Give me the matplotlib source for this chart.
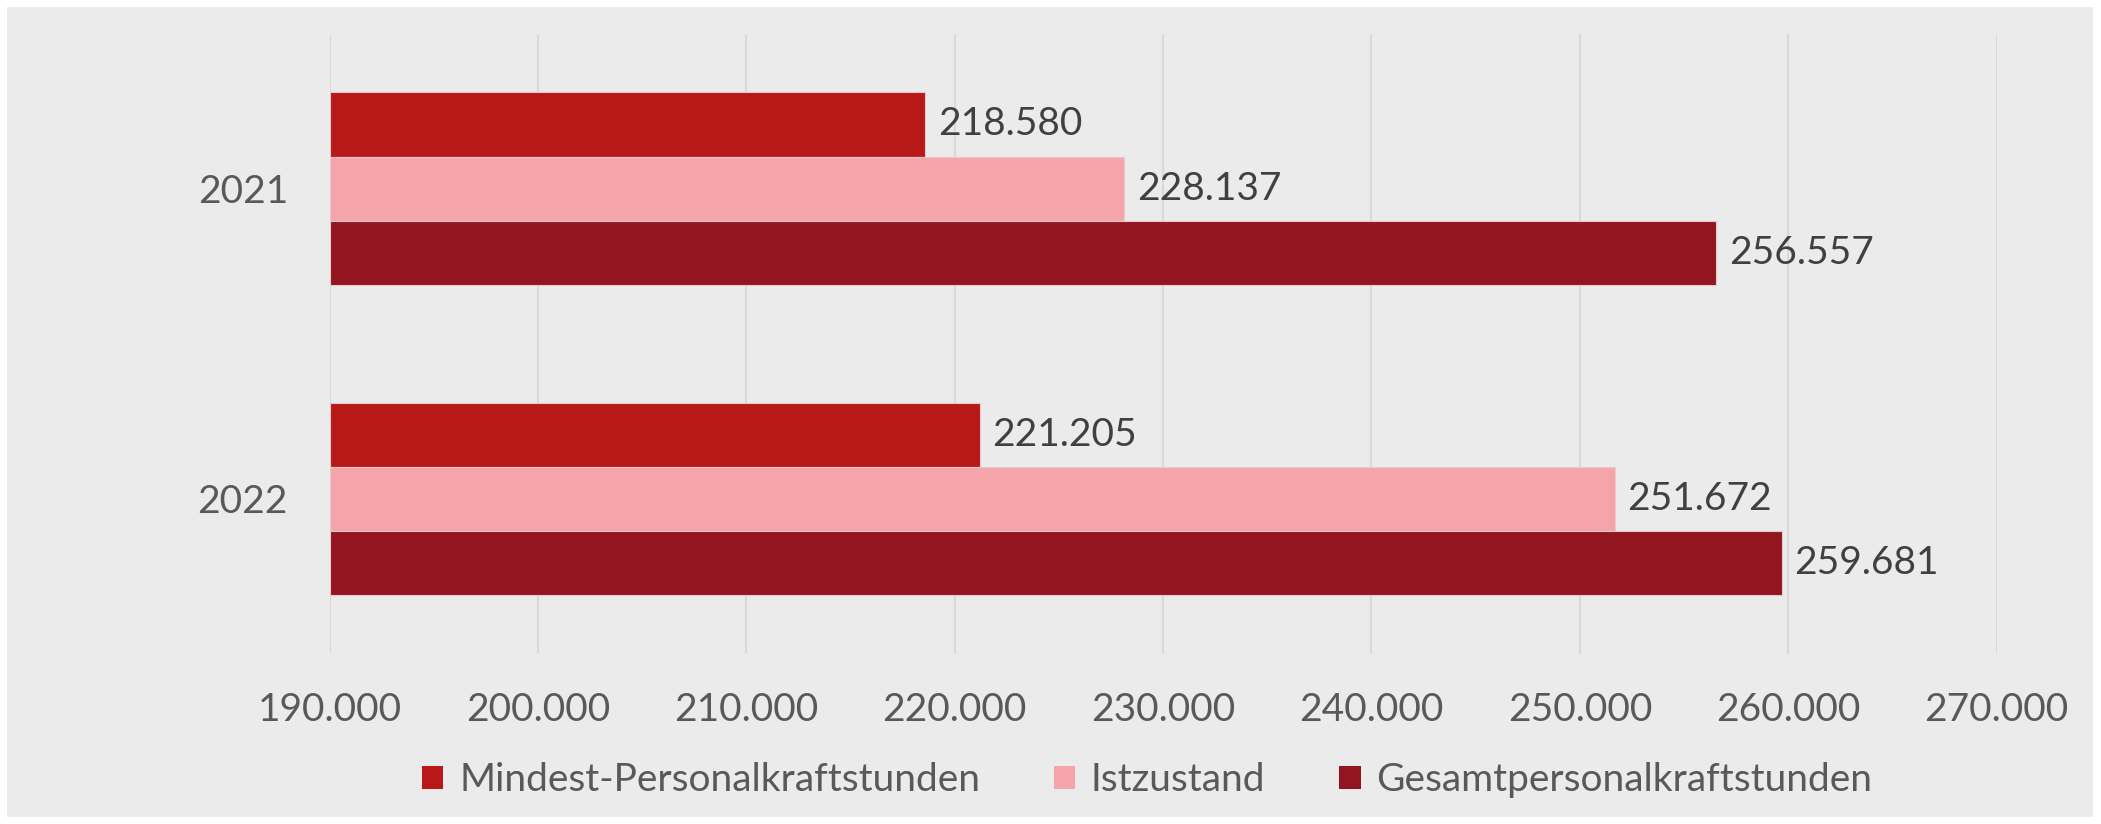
import matplotlib.pyplot as plt
from matplotlib.patches import Rectangle
import numpy as np

years = ["2021", "2022"]
series = ["Mindest-Personalkraftstunden", "Istzustand", "Gesamtpersonalkraftstunden"]
mindest = [218580, 221205]
ist = [228137, 251672]
gesamt = [256557, 259681]
colors = ["#B91818", "#F5A5AA", "#921520"]
xticks = np.arange(190000, 270001, 10000)

plt.rcParams["font.family"] = ["Lato", "DejaVu Sans"]
FS = 28


def de(v):
    return f"{v:,}".replace(",", ".")


fig = plt.figure(figsize=(21.01, 8.24), dpi=100, facecolor="white")
fig.patches.append(Rectangle((7 / 2101, 7 / 824), 2086 / 2101, 810 / 824,
                             transform=fig.transFigure, facecolor="#EBEBEB",
                             edgecolor="none", zorder=-10))

ax = fig.add_axes([0.1569, 0.2063, 0.7934, 0.753])
ax.set_facecolor("none")

y = np.arange(len(years))
h = 0.207
for i, (vals, col, name) in enumerate(zip([mindest, ist, gesamt], colors, series)):
    pos = y + (i - 1) * h
    bars = ax.barh(pos, np.array(vals) - 190000, left=190000, height=h,
                   color=col, edgecolor="#E8C8C8", linewidth=0.8, label=name, zorder=2)
    for b, v in zip(bars, vals):
        ax.text(v + 600, b.get_y() + h / 2, de(v), va="center", ha="left",
                fontsize=FS, color="#404040")

ax.set_xlim(190000, 270000)
ax.set_ylim(1.5, -0.5)
ax.set_xticks(xticks)
ax.set_xticklabels([de(v) for v in xticks])
ax.set_yticks(y)
ax.set_yticklabels(years)
ax.tick_params(axis="x", length=0, pad=27, labelsize=FS, labelcolor="#595959")
ax.tick_params(axis="y", length=0, pad=30, labelsize=FS, labelcolor="#595959")
ax.grid(axis="x", color="#D9D9D9", linewidth=1.5, zorder=0)
ax.set_axisbelow(True)
for s in ax.spines.values():
    s.set_visible(False)

handles, labels = ax.get_legend_handles_labels()
leg = fig.legend(handles, labels, loc="center", bbox_to_anchor=(0.546, 0.053),
                 ncol=3, frameon=False, fontsize=FS, handlelength=0.55,
                 handleheight=0.55, handletextpad=0.4, columnspacing=1.9,
                 labelcolor="#595959")
for p in leg.get_patches():
    p.set_edgecolor("none")

fig.savefig("out.png", dpi=100, facecolor="white")
